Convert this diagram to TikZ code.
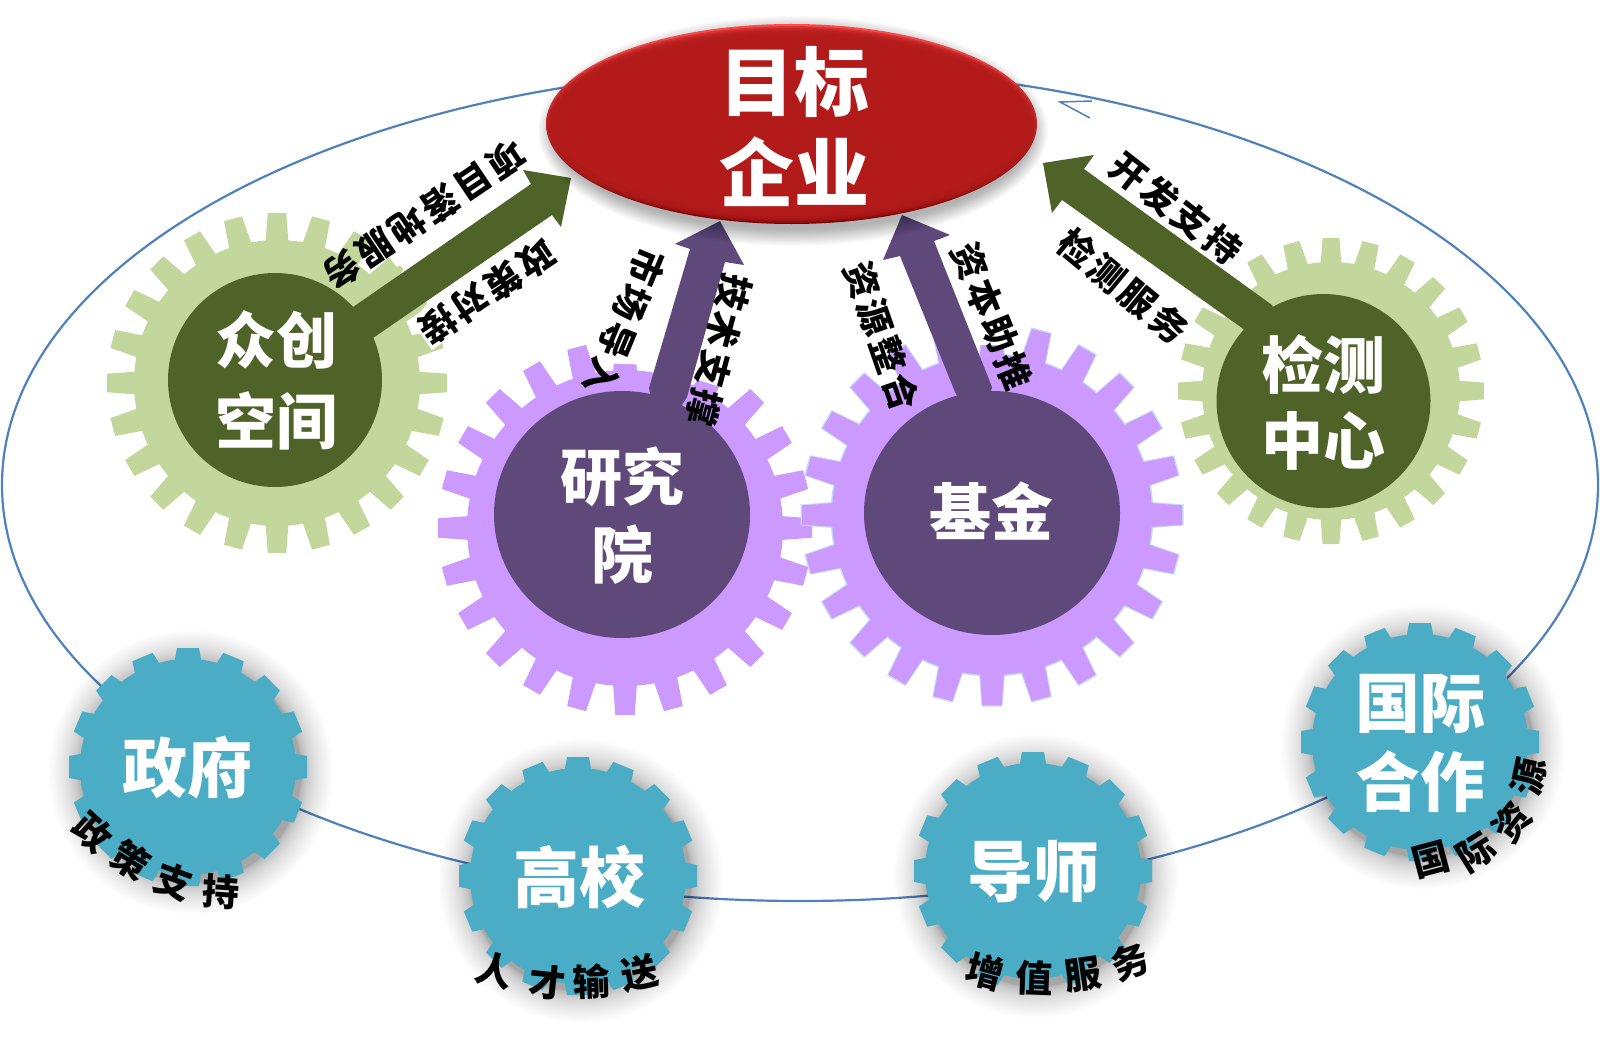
\documentclass[tikz,border=0pt]{standalone}
\usepackage{fontspec}
\setmainfont{Noto Sans CJK SC}
\definecolor{gearGreen}{HTML}{C3D69B}
\definecolor{darkGreen}{HTML}{4F6228}
\definecolor{gearPurple}{HTML}{CC99FF}
\definecolor{darkPurple}{HTML}{5F497A}
\definecolor{gearBlue}{HTML}{4BACC6}
\definecolor{lineBlue}{HTML}{4F81BD}
\definecolor{redMain}{HTML}{B31B1B}
\definecolor{rimBlue}{HTML}{C5D9F1}
\newcommand{\gearshape}[7]{%
  % x, y, outer R, root r, teeth, tooth width, colour
  \begin{scope}[shift={(#1,#2)}]
    \fill[#7] (0,0) circle (#4);
    \foreach \i in {1,...,#5} {
      \fill[#7,rotate=\i*360/#5] (#4-3,-#6/2-1) -- (#3,-#6*0.44) -- (#3,#6*0.44) -- (#4-3,#6/2+1) -- cycle;
    }
  \end{scope}}
\newcommand{\softshadow}[3]{%
  \foreach \k in {0,...,29} {
    \fill[black,fill opacity=0.013] (#1+3,#2+5) circle ({#3-2+32*(1-\k/30)*(1-\k/30)});
  }}
\tikzset{
  hub/.style={text=white,align=center,inner sep=0pt},
  armlabel/.style={text=black,inner sep=0pt,font=\fontsize{36}{36}\selectfont\bfseries\addfontfeature{LetterSpace=10}},
  arclabel/.style={text=black,inner sep=0pt,font=\fontsize{37}{37}\selectfont\bfseries},
  blockgreen/.style={fill=darkGreen},
  blockpurple/.style={fill=darkPurple}
}
\begin{document}
\begin{tikzpicture}[x=1pt,y=-1pt]
\useasboundingbox (0,0) rectangle (1600,1062);
\fill[white] (0,0) rectangle (1600,1062);

% orbit
\draw[lineBlue,line width=2.2pt] (800,485) ellipse [x radius=798,y radius=416];
\draw[lineBlue,line width=1.5pt] (1092,101) -- (1060,102) -- (1090,118);

% partner gears
\softshadow{188}{767}{112}
\gearshape{188}{767}{119}{108}{16}{25}{gearBlue}
\softshadow{578}{876}{112}
\gearshape{578}{876}{119}{108}{16}{25}{gearBlue}
\softshadow{1033}{871}{112}
\gearshape{1033}{871}{119}{108}{16}{25}{gearBlue}
\softshadow{1420}{742}{112}
\gearshape{1420}{742}{119}{108}{16}{25}{gearBlue}

% gears
\gearshape{277}{383}{170}{143}{24}{21}{gearGreen}
\gearshape{1331}{391}{153}{129}{24}{19}{gearGreen}
\gearshape{625}{528}{187}{158}{24}{22}{gearPurple}
\gearshape{992}{515}{191.5}{161.5}{24}{24}{rimBlue}
\gearshape{992}{515}{190}{160}{24}{22}{gearPurple}

% white backings of the labels
\fill[white] (428,303) -- (550,215) -- (574,248) -- (432,350) -- (412,322) -- cycle;
\fill[white] (397,267) -- (528,182) -- (505,150) -- (375,240) -- cycle;
\fill[white] (690,249) -- (656,365) -- (595,363) -- (640,235) -- cycle;
\fill[white] (725,262) -- (692,378) -- (730,390) -- (762,275) -- cycle;
\fill[white] (900,256) -- (938,358) -- (920,363) -- (880,262) -- cycle;
\fill[white] (934,241) -- (980,345) -- (1022,345) -- (975,230) -- cycle;

% block arrows
\fill[blockgreen] (353,307) -- (531,184) -- (523,170) -- (571,178) -- (561,227) -- (552,215) -- (373,338) -- (330,380) -- cycle;
\fill[blockgreen] (1272,305) -- (1084,169) -- (1094,155) -- (1043,163) -- (1052,213) -- (1062,200) -- (1242,328) -- (1300,380) -- cycle;
\fill[blockpurple] (649,388) -- (690,249) -- (675,244) -- (720,221) -- (744,265) -- (725,262) -- (687,397) -- (660,440) -- cycle;
\fill[blockpurple] (955,392) -- (900,256) -- (883,260) -- (902,215) -- (950,235) -- (934,241) -- (992,387) -- (980,440) -- cycle;

% hubs
\fill[darkGreen] (275,380) circle (107);
\fill[darkGreen] (1323.5,401) circle (107);
\fill[darkPurple] (622,514.5) ellipse [x radius=128,y radius=123.5];
\fill[darkPurple] (992,513) ellipse [x radius=128,y radius=122];

% target ellipse
\foreach \k in {0,...,19} {
  \fill[black,fill opacity=0.014] (793,131) ellipse [x radius={238+0.9*\k},y radius={98+0.9*\k}];
}
\shade[top color=red!70!white,bottom color=red!45!black] (791.5,124) ellipse [x radius=245.5,y radius=100];
\foreach \k in {1,...,6} {
  \fill[redMain,fill opacity=0.45] (791.5,124.5) ellipse [x radius={245.5-1.3*\k},y radius={100-1.6*\k}];
}
\fill[redMain] (791.5,124.5) ellipse [x radius=236,y radius=89];

% hub texts
\node[hub,font=\fontsize{75}{91}\selectfont\bfseries] (target) at (794,126.5) {目标\\企业};
\node[hub,font=\fontsize{61}{81}\selectfont\bfseries] (maker) at (276,380.5) {众创\\空间};
\node[hub,font=\fontsize{62}{76}\selectfont\bfseries] (test) at (1323,403) {检测\\中心};
\node[hub,font=\fontsize{62}{78}\selectfont\bfseries] (inst) at (622,516) {研究\\院};
\node[hub,font=\fontsize{62}{62}\selectfont\bfseries] (fund) at (991,511) {基金};
\node[hub,font=\fontsize{65}{65}\selectfont\bfseries] (gov) at (187,768) {政府};
\node[hub,font=\fontsize{66}{66}\selectfont\bfseries] (univ) at (579,877) {高校};
\node[hub,font=\fontsize{66}{66}\selectfont\bfseries] (mentor) at (1033,872) {导师};
\node[hub,font=\fontsize{65}{79}\selectfont\bfseries] (intl) at (1420,743.5) {国际\\合作};

% labels along the arrows
\node[armlabel,rotate=-146] (a1) at (424,215) {项目落地服务};
\node[armlabel,rotate=-146] (a2) at (487,292) {政策对接};
\node[armlabel,rotate=-112.5] (a3) at (625,322) {市场导入};
\node[armlabel,rotate=-105] (a4) at (719,350) {技术支撑};
\node[armlabel,rotate=-70.8] (a5) at (882,336) {资源整合};
\node[armlabel,rotate=-68] (a6) at (992,316) {资本助推};
\node[armlabel,rotate=-38] (a7) at (1176,208) {开发支持};
\node[armlabel,rotate=-39.5] (a8) at (1123,286) {检测服务};

% labels around the partner gears
\node[arclabel,rotate=-42] (b1) at (93,832) {政};
\node[arclabel,rotate=-32] (b2) at (131,860) {策};
\node[arclabel,rotate=-20] (b3) at (174,882) {支};
\node[arclabel,rotate=-4] (b4) at (221,892) {持};

\node[arclabel,rotate=-14] (c1) at (495,970) {人};
\node[arclabel,rotate=-6] (c2) at (547,982) {才};
\node[arclabel,rotate=2] (c3) at (591,982) {输};
\node[arclabel,rotate=12] (c4) at (640,973) {送};

\node[arclabel,rotate=-15] (d1) at (985,972) {增};
\node[arclabel,rotate=-2] (d2) at (1034,978) {值};
\node[arclabel,rotate=8] (d3) at (1083,975) {服};
\node[arclabel,rotate=20] (d4) at (1130,962) {务};

\node[arclabel,rotate=15] (e1) at (1431,860) {国};
\node[arclabel,rotate=32] (e2) at (1476,852) {际};
\node[arclabel,rotate=52] (e3) at (1512,822) {资};
\node[arclabel,rotate=78] (e4) at (1529,777) {源};
\end{tikzpicture}
\end{document}
